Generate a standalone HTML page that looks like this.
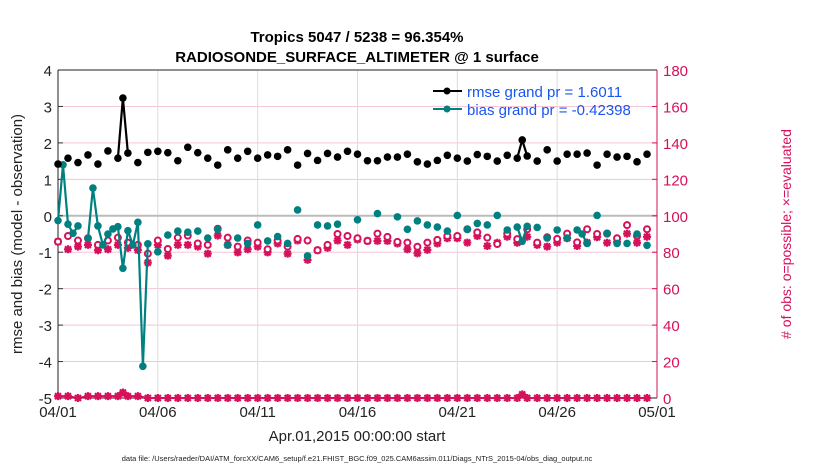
<!DOCTYPE html>
<html><head><meta charset="utf-8"><style>
html,body{margin:0;padding:0;background:#fff;}
svg{display:block;font-family:"Liberation Sans",sans-serif;}
</style></head><body>
<svg id="chart" width="830" height="470" viewBox="0 0 830 470">
<rect width="830" height="470" fill="#fff"/>
<g id="grid"></g>
<g id="axes"></g>
<g id="series"></g>
<text x="357" y="42" text-anchor="middle" font-size="15" font-weight="bold">Tropics 5047 / 5238 = 96.354%</text>
<text x="357" y="62" text-anchor="middle" font-size="15" font-weight="bold">RADIOSONDE_SURFACE_ALTIMETER @ 1 surface</text>
<text transform="translate(22,234) rotate(-90)" text-anchor="middle" font-size="15" fill="#222">rmse and bias (model - observation)</text>
<text transform="translate(791,234) rotate(-90)" text-anchor="middle" font-size="14" fill="#d6105a"># of obs: o=possible; ×=evaluated</text>
<text x="357" y="441" text-anchor="middle" font-size="15" fill="#222">Apr.01,2015 00:00:00 start</text>
<text x="357" y="461" text-anchor="middle" font-size="7.5" fill="#222">data file: /Users/raeder/DAI/ATM_forcXX/CAM6_setup/f.e21.FHIST_BGC.f09_025.CAM6assim.011/Diags_NTrS_2015-04/obs_diag_output.nc</text>
<g>
<line x1="433" y1="91" x2="462" y2="91" stroke="#000" stroke-width="2"/><circle cx="447" cy="91" r="3.5" fill="#000"/>
<text x="467" y="97" font-size="15" fill="#1a55f0">rmse grand pr = 1.6011</text>
<line x1="433" y1="109" x2="462" y2="109" stroke="#008080" stroke-width="2"/><circle cx="447" cy="109" r="3.5" fill="#008080"/>
<text x="467" y="115" font-size="15" fill="#1a55f0">bias grand pr = -0.42398</text>
</g>
</svg>
<script>
// times in days since 04/01 00Z
const rmseT = [0,0.5,1,1.5,2,2.5,3,3.25,3.5,4,4.5,5,5.5,6,6.5,7,7.5,8,8.5,9,9.5,10,10.5,11,11.5,12,12.5,13,13.5,14,14.5,15,15.5,16,16.5,17,17.5,18,18.5,19,19.5,20,20.5,21,21.5,22,22.5,23,23.25,23.5,24,24.5,25,25.5,26,26.5,27,27.5,28,28.5,29,29.5];
const rmseV = [1.42,1.58,1.46,1.67,1.42,1.78,1.58,3.23,1.72,1.46,1.74,1.77,1.73,1.51,1.88,1.73,1.58,1.39,1.81,1.58,1.77,1.58,1.67,1.63,1.81,1.39,1.71,1.52,1.71,1.61,1.77,1.69,1.51,1.51,1.61,1.61,1.69,1.48,1.42,1.52,1.66,1.58,1.50,1.68,1.63,1.50,1.66,1.58,2.08,1.64,1.50,1.81,1.50,1.69,1.69,1.72,1.39,1.69,1.61,1.63,1.48,1.69];
const biasT = [0,0.25,0.5,0.75,1,1.5,1.75,2,2.25,2.5,2.75,3,3.25,3.5,3.75,4,4.25,4.5,
  5,5.5,6,6.5,7,7.5,8,8.5,9,9.5,10,10.5,11,11.5,12,12.5,13,13.5,14,
  15,16,17,17.5,18,18.5,19,19.5,20,20.5,21,21.5,22,22.5,23,23.25,23.5,24,24.5,25,25.5,26,26.25,26.5,27,27.5,28,28.5,29,29.5];
const biasV = [-0.13,1.40,-0.23,-0.48,-0.28,-0.62,0.76,-0.28,-0.80,-0.50,-0.36,-0.30,-1.44,-0.41,-0.80,-0.18,-4.13,-0.77,
  -0.99,-0.53,-0.42,-0.45,-0.42,-0.61,-0.37,-0.80,-0.61,-0.76,-0.25,-0.69,-0.57,-0.76,0.16,-1.10,-0.25,-0.28,-0.23,
  -0.11,0.06,-0.03,-0.37,-0.14,-0.25,-0.31,-0.42,0.01,-0.37,-0.21,-0.25,0.01,-0.39,-0.31,-0.70,-0.29,-0.32,-0.61,-0.39,-0.61,-0.39,-0.50,-0.76,0.01,-0.48,-0.76,-0.76,-0.50,-0.81];
const cntT = [0,0.5,1,1.5,2,2.5,3,3.5,4,4.5,5,5.5,6,6.5,7,7.5,8,8.5,9,9.5,10,10.5,11,11.5,12,12.5,13,13.5,14,14.5,15,15.5,16,16.5,17,17.5,18,18.5,19,19.5,20,20.5,21,21.5,22,22.5,23,23.5,24,24.5,25,25.5,26,26.5,27,27.5,28,28.5,29,29.5];
const possibleV = [85.8,88.9,86.4,87.7,84.0,86.4,88.0,85.3,84.0,79.2,86.4,81.8,88.0,89.1,84.8,84.0,92.9,88.0,83.1,86.4,85.3,81.6,86.4,83.1,87.3,86.4,81.1,84.0,90.0,88.9,87.7,86.2,90.2,88.4,85.7,85.3,83.0,85.3,86.8,88.9,88.9,92.6,90.9,88.0,84.5,90.2,87.2,92.6,85.3,88.2,87.3,90.2,85.4,92.6,90.0,90.2,87.7,94.9,88.9,92.6];
const evaluatedV = [85.8,81.6,83.1,84.0,81.1,81.6,84.0,82.4,81.2,74.3,84.0,78.1,84.0,84.0,83.1,79.2,89.1,84.0,79.9,81.6,83.1,79.9,84.8,79.2,86.4,75.8,81.1,82.4,86.4,84.0,87.0,86.2,86.2,86.2,84.8,81.6,79.4,81.3,84.8,87.7,87.7,85.3,88.9,83.4,85.2,88.5,85.2,88.5,84.0,83.1,85.3,87.7,83.4,85.3,88.2,85.2,85.7,90.2,85.2,88.5];
const rejT = [0,0.5,1,1.5,2,2.5,3,3.25,3.5,4,4.5,5,5.5,6,6.5,7,7.5,8,8.5,9,9.5,10,10.5,11,11.5,12,12.5,13,13.5,14,14.5,15,15.5,16,16.5,17,17.5,18,18.5,19,19.5,20,20.5,21,21.5,22,22.5,23,23.25,23.5,24,24.5,25,25.5,26,26.5,27,27.5,28,28.5,29,29.5];
const rejV = [1,1,0,1,1,1,1,3,1,1,0,0,0,0,0,0,0,0,0,0,0,0,0,0,0,0,0,0,0,0,0,0,0,0,0,0,0,0,0,0,0,0,0,0,0,0,0,0,2,0,0,0,0,0,0,0,0,0,0,0,0,0];
const xTickDays = [0,5,10,15,20,25,30];
const xTickLabels = ["04/01","04/06","04/11","04/16","04/21","04/26","05/01"];
const yTicks = [-5,-4,-3,-2,-1,0,1,2,3,4];
const yrTicks = [0,20,40,60,80,100,120,140,160,180];

const X0=58,X1=657,Y0=70,Y1=398;
const xs = d => X0 + d*(X1-X0)/30;
const ys = v => Y1 - (v+5)*(Y1-Y0)/9;
const yr = c => Y1 - c*(Y1-Y0)/180;
const NS="http://www.w3.org/2000/svg";
function mk(parent,tag,attrs){const e=document.createElementNS(NS,tag);for(const k in attrs)e.setAttribute(k,attrs[k]);parent.appendChild(e);return e;}
const grid=document.getElementById('grid'), axes=document.getElementById('axes'), ser=document.getElementById('series');
const PINK="#d6105a", TEAL="#008080";

yTicks.forEach(v=>{
  const g=mk(grid,'line',{x1:X0,x2:X1,y1:ys(v),y2:ys(v),stroke:'#f3c6d8','stroke-width':1});
  
  
  const t=mk(axes,'line',{x1:X0,x2:X0+5,y1:ys(v),y2:ys(v),stroke:'#333'});
  
  
  const l=mk(axes,'text',{x:X0-6,y:ys(v)+6,'text-anchor':'end','font-size':15,fill:'#222'});
  l.textContent=v;
  
  
});
xTickDays.forEach((d,i)=>{
  const g=mk(grid,'line',{x1:xs(d),x2:xs(d),y1:Y0,y2:Y1,stroke:'#dcdcdc','stroke-width':1});
  
  
  const l=mk(axes,'text',{x:xs(d),y:Y1+19,'text-anchor':'middle','font-size':15,fill:'#222'});
  l.textContent=xTickLabels[i];
  
  
});
yrTicks.forEach(c=>{
  const t=mk(axes,'line',{x1:X1-5,x2:X1,y1:yr(c),y2:yr(c),stroke:PINK});
  
  
  const l=mk(axes,'text',{x:X1+6,y:yr(c)+6,'font-size':15,fill:PINK});
  l.textContent=c;
  
  
});
const zl=mk(grid,'line',{x1:X0,x2:X1,y1:ys(0),y2:ys(0),stroke:'#bbb','stroke-width':2});


const ax=mk(axes,'path',{d:`M${X0},${Y0}V${Y1}H${X1}`,fill:'none',stroke:'#222'});


const ax2=mk(axes,'line',{x1:X0,x2:X1,y1:Y0,y2:Y0,stroke:'#222'});


const ax3=mk(axes,'line',{x1:X1,x2:X1,y1:Y0,y2:Y1,stroke:PINK});



function star(x,y,name){
  const g=mk(ser,'path',{d:`M${x-4},${y}H${x+4}M${x},${y-4}V${y+4}M${x-3},${y-3}L${x+3},${y+3}M${x-3},${y+3}L${x+3},${y-3}`,stroke:PINK,'stroke-width':2.2});
  
  
}
// connect consecutive points only when sampled 6-hourly (gap <= 0.25 day)
function linePath(T,V){
  let d='';
  for(let i=0;i<T.length;i++){
    const cont = i>0 && (T[i]-T[i-1])<=0.26;
    d += (cont?'L':'M')+xs(T[i]).toFixed(1)+','+ys(V[i]).toFixed(1);
  }
  return d;
}
// counts
cntT.forEach((d,i)=>{
  star(xs(d),yr(evaluatedV[i]),'evaluated-marker');
  const c=mk(ser,'circle',{cx:xs(d),cy:yr(possibleV[i]),r:3,fill:'#fff',stroke:PINK,'stroke-width':2});
  
  
});
let dp='';rejT.forEach((d,i)=>{dp+=(i?'L':'M')+xs(d)+','+yr(rejV[i]);});
const bl=mk(ser,'path',{d:dp,fill:'none',stroke:PINK,'stroke-width':2});


rejT.forEach((d,i)=>{
  star(xs(d),yr(rejV[i]),'bottom-count-marker');
});
// bias
const bline=mk(ser,'path',{d:linePath(biasT,biasV),fill:'none',stroke:TEAL,'stroke-width':2.2});


biasT.forEach((d,i)=>{
  const m=mk(ser,'circle',{cx:xs(d),cy:ys(biasV[i]),r:3.8,fill:TEAL});
  
  
});
// rmse
const rline=mk(ser,'path',{d:linePath(rmseT,rmseV),fill:'none',stroke:'#000','stroke-width':2.2});


rmseT.forEach((d,i)=>{
  const m=mk(ser,'circle',{cx:xs(d),cy:ys(rmseV[i]),r:3.8,fill:'#000'});
  
  
});
</script>
</body></html>
